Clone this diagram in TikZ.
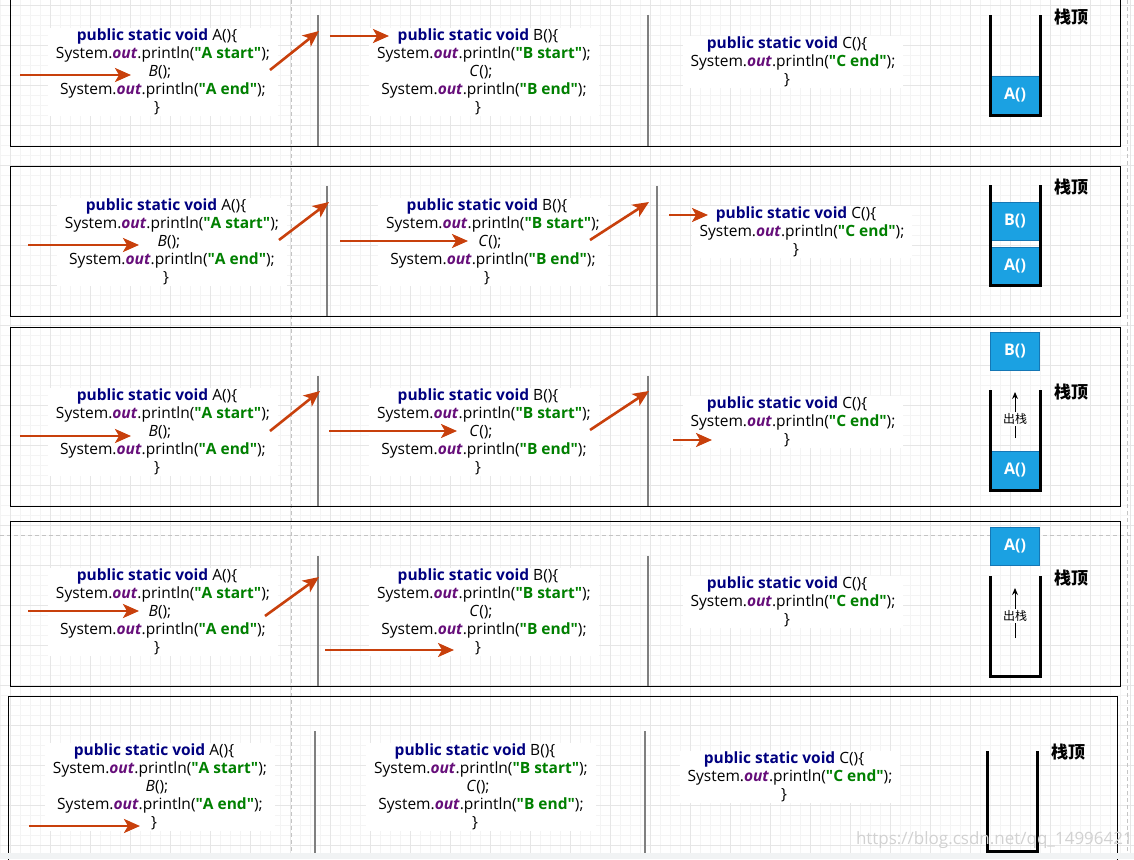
\documentclass[tikz,border=0pt]{standalone}
\usepackage{fontspec}
\setmainfont{Open Sans}
\newfontfamily\cjk{Noto Sans CJK SC}
\usetikzlibrary{arrows.meta}
\definecolor{kwblue}{HTML}{000080}
\definecolor{kwpurple}{HTML}{660E7A}
\definecolor{strgreen}{HTML}{008000}
\definecolor{arrowred}{HTML}{C8400C}
\definecolor{stackblue}{HTML}{1BA1E2}
\definecolor{stackedge}{HTML}{1577B5}
\definecolor{gridmajor}{HTML}{E6E6E6}
\definecolor{gridminor}{HTML}{F4F4F4}
\definecolor{divgray}{HTML}{808080}
\definecolor{pagedashc}{HTML}{C4C4C4}
\definecolor{stripc}{HTML}{F1F3F4}
\newcommand\qd{\textquotedbl}
\newcommand\pubsv[1]{\hspace*{-12pt}\textcolor{kwblue}{\textbf{public static void}} #1()\{}
\newcommand\sop[1]{System.\textcolor{kwpurple}{\textbf{\textit{out}}}.println(\textcolor{strgreen}{\textbf{\qd#1\qd}});}
\newcommand\callf[1]{\hspace*{-6pt}\textit{#1}();}
\newcommand\clb{\hspace*{-12pt}\}}
\newcommand\blkA{\pubsv{A}\\\sop{A start}\\\callf{B}\\\sop{A end}\\\clb}
\newcommand\blkB{\pubsv{B}\\\sop{B start}\\\callf{C}\\\sop{B end}\\\clb}
\newcommand\blkC{\pubsv{C}\\\sop{C end}\\\clb}
\tikzset{
  codebox/.style={fill=white, align=center, inner xsep=8pt, inner ysep=1pt, text=black, font=\fontsize{15.5}{18}\selectfont},
  panel/.style={draw=black, line width=1pt},
  divider/.style={draw=divgray, line width=2.2pt},
  flow/.style={draw=arrowred, line width=2.6pt, -{Stealth[length=16pt,width=14pt,inset=4pt]}},
  wall/.style={draw=black, line width=3pt},
  sblock/.style={fill=stackblue, draw=stackedge, line width=0.8pt, minimum width=49pt, minimum height=38pt, inner sep=0pt, text=white, font=\fontsize{16}{18}\selectfont\bfseries},
  toplabel/.style={font=\cjk\fontsize{17}{20}\selectfont\bfseries, text=black, inner sep=0pt},
  poplabel/.style={font=\cjk\fontsize{12}{14}\selectfont, fill=white, inner sep=1pt, text=black},
  poparrow/.style={draw=black, line width=1pt, -{Stealth[length=7pt,width=6pt]}},
}
\begin{document}
\begin{tikzpicture}[x=1pt,y=-1pt]
\useasboundingbox (0,0) rectangle (1134,859);
% grid
\foreach \gx in {0,10,...,1130} \draw[gridminor, line width=0.6pt] (\gx,0) -- (\gx,859);
\foreach \gy in {5,15,...,855} \draw[gridminor, line width=0.6pt] (0,\gy) -- (1134,\gy);
\foreach \gx in {10,50,...,1130} \draw[gridmajor, line width=0.8pt] (\gx,0) -- (\gx,859);
\foreach \gy in {5,45,...,845} \draw[gridmajor, line width=0.8pt] (0,\gy) -- (1134,\gy);
% page break lines
\draw[pagedashc, line width=0.8pt, dash pattern=on 4pt off 3pt] (291,0) -- (291,859);
\draw[pagedashc, line width=0.8pt, dash pattern=on 4pt off 3pt] (0,535) -- (1134,535);
\draw[pagedashc, line width=0.8pt, dash pattern=on 4pt off 3pt] (1127,0) -- (1127,859);
% panels
\draw[panel] (10,-5) rectangle (1120,146);
\draw[panel] (10,166) rectangle (1120,316);
\draw[panel] (10,327) rectangle (1120,506);
\draw[panel] (10,521) rectangle (1120,686);
\draw[panel] (8,696) rectangle (1117,875);
% dividers
\draw[divider] (318,15) -- (318,146);  \draw[divider] (648,15) -- (648,146);
\draw[divider] (327,186) -- (327,316); \draw[divider] (657,186) -- (657,316);
\draw[divider] (318,376) -- (318,506); \draw[divider] (648,376) -- (648,506);
\draw[divider] (318,556) -- (318,686); \draw[divider] (648,556) -- (648,686);
\draw[divider] (315,731) -- (315,859); \draw[divider] (645,731) -- (645,859);
% code blocks
\node[codebox] (a1) at (163,72) {\blkA};
\node[codebox] (b1) at (484,72) {\blkB};
\node[codebox] (c1) at (793,62) {\blkC};
\node[codebox] (a2) at (172,242) {\blkA};
\node[codebox] (b2) at (493,242) {\blkB};
\node[codebox] (c2) at (802,232) {\blkC};
\node[codebox] (a3) at (163,432) {\blkA};
\node[codebox] (b3) at (484,432) {\blkB};
\node[codebox] (c3) at (793,422) {\blkC};
\node[codebox] (a4) at (163,612) {\blkA};
\node[codebox] (b4) at (484,612) {\blkB};
\node[codebox] (c4) at (793,602) {\blkC};
\node[codebox] (a5) at (160,787) {\blkA};
\node[codebox] (b5) at (481,787) {\blkB};
\node[codebox] (c5) at (790,777) {\blkC};
% arrow end points
\coordinate (p1s1) at (20,75);   \coordinate (p1e1) at (131,75);
\coordinate (p1s2) at (270,70);  \coordinate (p1e2) at (319,31);
\coordinate (p1s3) at (330,36);  \coordinate (p1e3) at (389,36);
\coordinate (p2s1) at (28,245);  \coordinate (p2e1) at (139,245);
\coordinate (p2s2) at (279,240); \coordinate (p2e2) at (329,202);
\coordinate (p2s3) at (340,241); \coordinate (p2e3) at (468,241);
\coordinate (p2s4) at (590,240); \coordinate (p2e4) at (649,202);
\coordinate (p2s5) at (669,215); \coordinate (p2e5) at (708,215);
\coordinate (p3s1) at (20,436);  \coordinate (p3e1) at (131,436);
\coordinate (p3s2) at (270,431); \coordinate (p3e2) at (320,391);
\coordinate (p3s3) at (329,431); \coordinate (p3e3) at (457,431);
\coordinate (p3s4) at (590,430); \coordinate (p3e4) at (649,391);
\coordinate (p3s5) at (673,440); \coordinate (p3e5) at (712,440);
\coordinate (p4s1) at (28,611);  \coordinate (p4e1) at (139,611);
\coordinate (p4s2) at (265,616); \coordinate (p4e2) at (319,577);
\coordinate (p4s3) at (325,650); \coordinate (p4e3) at (454,650);
\coordinate (p5s1) at (29,826);  \coordinate (p5e1) at (140,826);
\draw[flow] (p1s1) -- (p1e1); \draw[flow] (p1s2) -- (p1e2); \draw[flow] (p1s3) -- (p1e3);
\draw[flow] (p2s1) -- (p2e1); \draw[flow] (p2s2) -- (p2e2); \draw[flow] (p2s3) -- (p2e3);
\draw[flow] (p2s4) -- (p2e4); \draw[flow] (p2s5) -- (p2e5);
\draw[flow] (p3s1) -- (p3e1); \draw[flow] (p3s2) -- (p3e2); \draw[flow] (p3s3) -- (p3e3);
\draw[flow] (p3s4) -- (p3e4); \draw[flow] (p3s5) -- (p3e5);
\draw[flow] (p4s1) -- (p4e1); \draw[flow] (p4s2) -- (p4e2); \draw[flow] (p4s3) -- (p4e3);
\draw[flow] (p5s1) -- (p5e1);
% stacks
\node[sblock] (s1a) at (1015,95.5) {A()};
\draw[wall] (990,15) -- (990,115.5) -- (1040,115.5) -- (1040,15);
\node[toplabel] (t1) at (1071,17) {栈顶};

\node[sblock] (s2b) at (1015,221) {B()};
\node[sblock] (s2a) at (1015,266) {A()};
\draw[wall] (990,185) -- (990,285.5) -- (1040,285.5) -- (1040,185);
\node[toplabel] (t2) at (1071,187) {栈顶};

\node[sblock] (s3b) at (1015,351) {B()};
\node[sblock] (s3a) at (1015,470.5) {A()};
\draw[wall] (990,390) -- (990,490.5) -- (1040,490.5) -- (1040,390);
\coordinate (u3s) at (1015,438); \coordinate (u3e) at (1015,392);
\draw[poparrow] (u3s) -- (u3e);
\node[poplabel] (o3) at (1015,419) {出栈};
\node[toplabel] (t3) at (1071,392) {栈顶};

\node[sblock] (s4a) at (1015,546.5) {A()};
\draw[wall] (990,576) -- (990,676.5) -- (1040,676.5) -- (1040,576);
\coordinate (u4s) at (1015,638); \coordinate (u4e) at (1015,588);
\draw[poparrow] (u4s) -- (u4e);
\node[poplabel] (o4) at (1015,616) {出栈};
\node[toplabel] (t4) at (1071,578) {栈顶};

\draw[wall] (987,751) -- (987,851.5) -- (1037,851.5) -- (1037,751);
\node[toplabel] (t5) at (1068,752) {栈顶};
% watermark
\node[anchor=east, text=black!18, font=\fontsize{17}{20}\selectfont, inner sep=0pt] (wm) at (1133,840) {https://blog.csdn.net/qq\_14996421};
% bottom strip
\fill[stripc] (0,853) rectangle (1134,859);
\end{tikzpicture}
\end{document}
